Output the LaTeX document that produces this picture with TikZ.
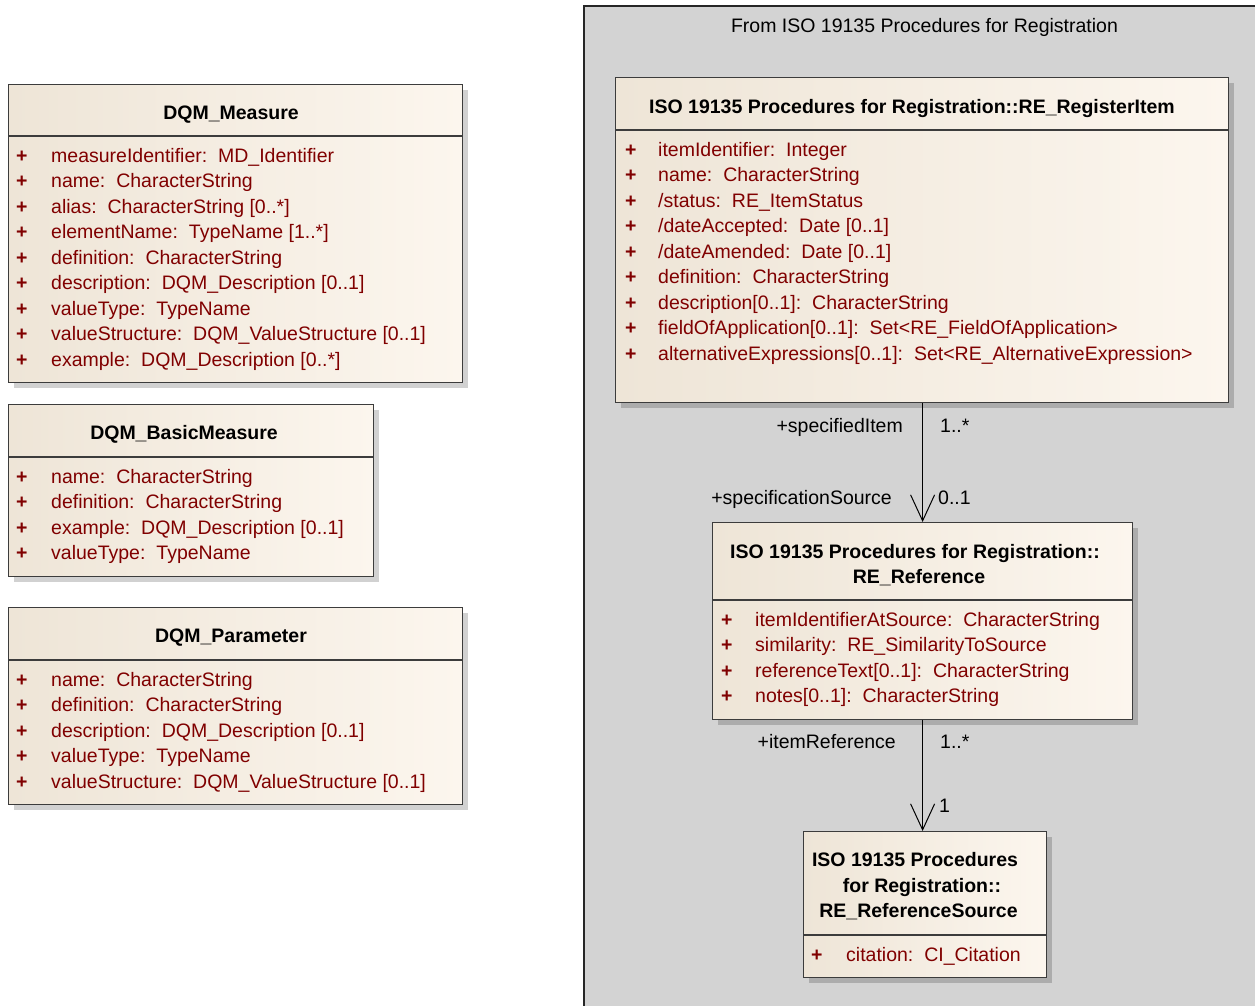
\documentclass[tikz,border=0pt]{standalone}
\usepackage{fontspec}
\setmainfont{Liberation Sans}
\usetikzlibrary{arrows.meta,shadows}
\definecolor{pkgfill}{RGB}{211,211,211}
\definecolor{attrred}{RGB}{128,0,0}
\definecolor{boxL}{RGB}{238,229,215}
\definecolor{boxR}{RGB}{252,246,238}
\definecolor{edge}{RGB}{60,60,60}
\newcommand{\gap}{\hspace{0.56em}}
\tikzset{
  classbox/.style={draw=edge, line width=1.2pt, left color=boxL, right color=boxR,
    anchor=north west, inner sep=0pt,
    drop shadow={shadow xshift=5pt, shadow yshift=-5pt, fill=black, opacity=0.18}},
  txt/.style={inner sep=0pt, font=\fontsize{19.5}{25}\selectfont},
  attr/.style={txt, text=attrred, anchor=base west},
  plus/.style={attr, font=\fontsize{19.5}{25}\selectfont\bfseries},
  ttl/.style={inner sep=0pt, font=\fontsize{19.5}{25}\selectfont\bfseries, anchor=base},
  lbl/.style={txt, text=black},
  sepline/.style={draw=edge, line width=1.2pt},
  assoc/.style={draw=black, line width=1pt, -{Straight Barb[length=26pt,width=24pt,line width=1pt]}},
}
\newcommand{\attrs}[5]{%
  \foreach \t [count=\i] in {#5} {
    \node[plus] (#1p\i) at (#2, {#4+25.5*(\i-1)}) {+};
    \node[attr] (#1a\i) at (#3, {#4+25.5*(\i-1)}) {\t};
  }%
}
\begin{document}
\begin{tikzpicture}[x=1pt,y=-1pt]
\useasboundingbox (0,0) rectangle (1255,1005);
% package frame
\fill[pkgfill] (584,6) rectangle (1256,1006);
\draw[line width=1.6pt, draw=black!85] (1256,6) -- (584,6) -- (584,1006);
\node[lbl, anchor=base] (pkgtitle) at (924.5,32) {From ISO 19135 Procedures for Registration};

% DQM_Measure
\node[classbox, minimum width=454pt, minimum height=298pt] (measure) at (8,84) {};
\draw[sepline] (measure.west |- 0,136) -- (measure.east |- 0,136);
\node[ttl] (measureT) at (231,119) {DQM\_Measure};
\attrs{m}{16}{51}{162}{
  {measureIdentifier:\gap MD\_Identifier},
  {name:\gap CharacterString},
  {alias:\gap CharacterString [0..*]},
  {elementName:\gap TypeName [1..*]},
  {definition:\gap CharacterString},
  {description:\gap DQM\_Description [0..1]},
  {valueType:\gap TypeName},
  {valueStructure:\gap DQM\_ValueStructure [0..1]},
  {example:\gap DQM\_Description [0..*]}}

% DQM_BasicMeasure
\node[classbox, minimum width=365pt, minimum height=172pt] (basic) at (8,404) {};
\draw[sepline] (basic.west |- 0,457) -- (basic.east |- 0,457);
\node[ttl] (basicT) at (184,439) {DQM\_BasicMeasure};
\attrs{b}{16}{51}{483}{
  {name:\gap CharacterString},
  {definition:\gap CharacterString},
  {example:\gap DQM\_Description [0..1]},
  {valueType:\gap TypeName}}

% DQM_Parameter
\node[classbox, minimum width=454pt, minimum height=197pt] (param) at (8,607) {};
\draw[sepline] (param.west |- 0,660) -- (param.east |- 0,660);
\node[ttl] (paramT) at (231,642) {DQM\_Parameter};
\attrs{q}{16}{51}{686}{
  {name:\gap CharacterString},
  {definition:\gap CharacterString},
  {description:\gap DQM\_Description [0..1]},
  {valueType:\gap TypeName},
  {valueStructure:\gap DQM\_ValueStructure [0..1]}}

% RE_RegisterItem
\node[classbox, minimum width=613pt, minimum height=325pt] (ri) at (615,77) {};
\draw[sepline] (ri.west |- 0,130) -- (ri.east |- 0,130);
\node[ttl] (riT) at (912,113) {ISO 19135 Procedures for Registration::RE\_RegisterItem};
\attrs{r}{625}{658}{156}{
  {itemIdentifier:\gap Integer},
  {name:\gap CharacterString},
  {/status:\gap RE\_ItemStatus},
  {/dateAccepted:\gap Date [0..1]},
  {/dateAmended:\gap Date [0..1]},
  {definition:\gap CharacterString},
  {description[0..1]:\gap CharacterString},
  {fieldOfApplication[0..1]:\gap Set<RE\_FieldOfApplication>},
  {alternativeExpressions[0..1]:\gap Set<RE\_AlternativeExpression>}}

% RE_Reference
\node[classbox, minimum width=420pt, minimum height=197pt] (ref) at (712,522) {};
\draw[sepline] (ref.west |- 0,600) -- (ref.east |- 0,600);
\node[ttl] (refT1) at (915,558) {ISO 19135 Procedures for Registration::};
\node[ttl] (refT2) at (919,583) {RE\_Reference};
\attrs{f}{721}{755}{626}{
  {itemIdentifierAtSource:\gap CharacterString},
  {similarity:\gap RE\_SimilarityToSource},
  {referenceText[0..1]:\gap CharacterString},
  {notes[0..1]:\gap CharacterString}}

% RE_ReferenceSource
\node[classbox, minimum width=243pt, minimum height=146pt] (src) at (803,831) {};
\draw[sepline] (src.west |- 0,935) -- (src.east |- 0,935);
\node[ttl] (srcT1) at (915,866) {ISO 19135 Procedures};
\node[ttl] (srcT2) at (922,892) {for Registration::};
\node[ttl] (srcT3) at (918.5,917) {RE\_ReferenceSource};
\attrs{s}{811}{846}{961}{
  {citation:\gap CI\_Citation}}

% associations
\draw[assoc] (ref.north |- ri.south) -- (ref.north);
\draw[assoc] (ref.south) -- (ref.south |- src.north);

% association labels
\node[lbl, anchor=base east] (l1) at (903,432) {+specifiedItem};
\node[lbl, anchor=base west] (l2) at (940,432) {1..*};
\node[lbl, anchor=base east] (l3) at (892,504) {+specificationSource};
\node[lbl, anchor=base west] (l4) at (938,504) {0..1};
\node[lbl, anchor=base east] (l5) at (896,748) {+itemReference};
\node[lbl, anchor=base west] (l6) at (940,748) {1..*};
\node[lbl, anchor=base west] (l7) at (939,812) {1};
\end{tikzpicture}
\end{document}
